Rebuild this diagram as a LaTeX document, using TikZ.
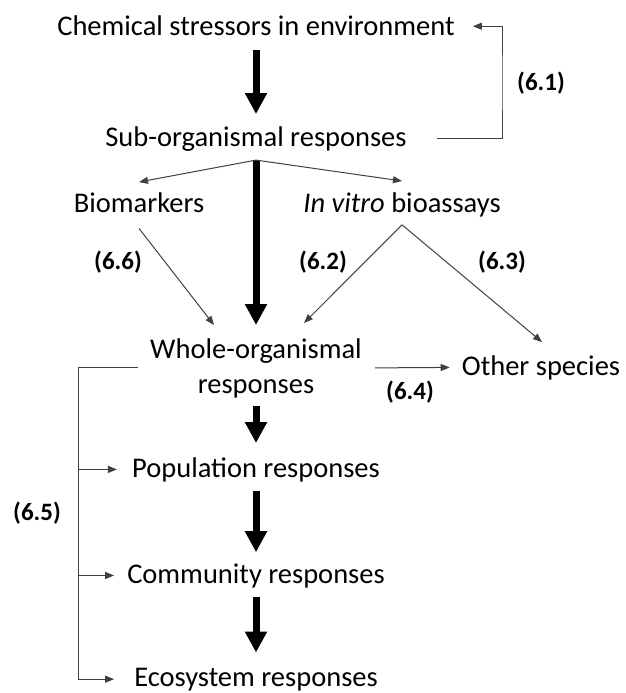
\documentclass[tikz,border=0pt]{standalone}
\usepackage{fontspec}
\setmainfont{Carlito}
\usetikzlibrary{arrows.meta}

\begin{document}
\begin{tikzpicture}[x=1pt,y=-1pt,
    txt/.style={inner sep=0pt,font=\fontsize{28.5}{35}\selectfont},
    num/.style={inner sep=0pt,font=\fontsize{25}{30}\selectfont\bfseries},
    fine/.style={line width=1pt,black!75,-{Triangle[length=9pt,width=7pt]}},
    fat/.style={line width=7pt,-{Triangle[length=21pt,width=21pt]}}]
   \useasboundingbox (0,0) rectangle (625,693);
     \node[txt,anchor=base](chem) at (256,36) {Chemical stressors in environment};
     \node[txt,anchor=base](sub) at (256,146) {Sub-organismal responses};
     \node[txt,anchor=base](bio) at (139,212) {Biomarkers};
     \node[txt,anchor=base](vitro) at (402,212) {\textit{In vitro} bioassays};
     \node[txt,align=center,anchor=base](whole) at (256,393) {Whole-organismal\\responses};
     \node[txt,anchor=base](other) at (541,375) {Other species};
     \node[txt,anchor=base](pop) at (256,477) {Population responses};
     \node[txt,anchor=base](comm) at (256,583) {Community responses};
     \node[txt,anchor=base](eco) at (256,686) {Ecosystem responses};
     \node[num](n1) at (541,83) {(6.1)};
     \node[num](n2) at (323,262) {(6.2)};
     \node[num](n3) at (502,262) {(6.3)};
     \node[num](n4) at (410,392) {(6.4)};
     \node[num](n5) at (37,513) {(6.5)};
     \node[num](n6) at (118,262) {(6.6)};
     \coordinate (fork) at ([yshift=-9pt]sub.south);
     \coordinate (rail) at ([xshift=18pt]n5.east);
    \draw[fat]
        ([yshift=-14pt]chem.south) -- ([yshift=12pt]sub.north);
    \draw[fat]
        (fork) -- ([yshift=13pt]whole.north);
    \draw[fat]
        ([yshift=-8pt]whole.south) -- ([yshift=14pt]pop.north);
    \draw[fat]
        ([yshift=-9pt]pop.south) -- ([yshift=11pt]comm.north);
    \draw[fat]
        ([yshift=-9pt]comm.south) -- ([yshift=15pt]eco.north);
    \draw[fine]
        ([xshift=30pt]sub.east) -| ([xshift=-15pt]n1.west) |-
        ([xshift=18pt]chem.east);
    \draw[fine] (fork) -- ([yshift=10pt]bio.north);
    \draw[fine] (fork) -- ([yshift=11pt]vitro.north);
    \draw[fine]
        ([yshift=-16pt]bio.south) -- ([xshift=-42pt,yshift=13pt]whole.north);
    \draw[fine]
        ([yshift=-8pt]vitro.south) -- ([xshift=48pt,yshift=15pt]whole.north);
    \draw[fine]
        ([yshift=-8pt]vitro.south) -- ([xshift=1pt,yshift=13pt]other.north);
    \draw[fine]
        ([xshift=13pt]whole.east) -- ([xshift=-12pt]other.west);
    \draw[fine]
        ([xshift=-12pt]whole.west) -| (rail |- eco.west) --
        ([xshift=-20pt]eco.west);
    \draw[fine] (rail |- pop.west) -- ([xshift=-15pt]pop.west);
    \draw[fine] (rail |- comm.west) -- ([xshift=-13pt]comm.west);
 \end{tikzpicture}
\end{document}
